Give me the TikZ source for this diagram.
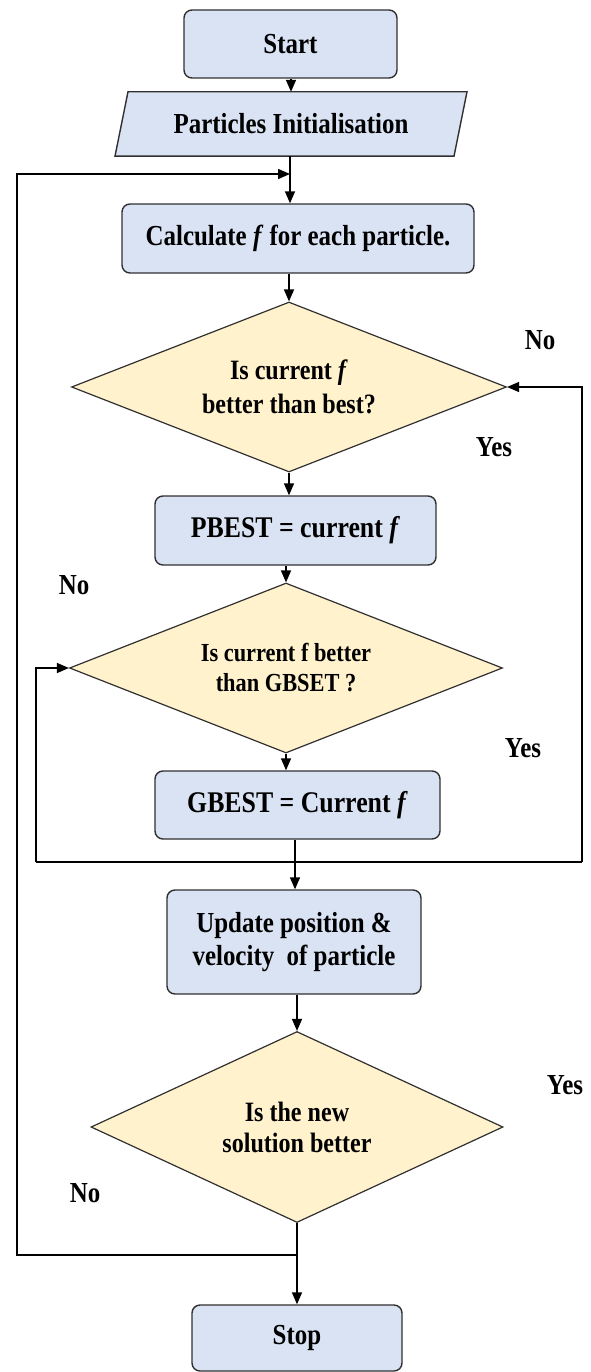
\documentclass[tikz,border=0pt]{standalone}
\usepackage{fontspec}
\setmainfont{Liberation Serif}[FakeStretch=0.86]
\usetikzlibrary{shapes.geometric,arrows.meta,backgrounds}
\definecolor{boxblue}{HTML}{DAE3F3}
\definecolor{decyel}{HTML}{FFF2CC}
\definecolor{edgegray}{HTML}{303030}
\tikzset{
  procbox/.style={rectangle, rounded corners=8pt, draw=edgegray, line width=1.4pt, fill=boxblue,
    inner sep=0pt, align=center, font=\bfseries\fontsize{29}{33}\selectfont},
  decbox/.style={diamond, draw=edgegray, line width=1.2pt, fill=decyel, inner sep=0pt,
    align=center, font=\bfseries\fontsize{28}{34}\selectfont},
  lbl/.style={font=\bfseries\fontsize{29}{33}\selectfont, inner sep=0pt},
  conn/.style={draw=black, line width=1.5pt},
  arr/.style={conn, -{Triangle[length=12pt,width=10pt]}}
}
\begin{document}
\begin{tikzpicture}[x=1pt,y=-1pt]
\useasboundingbox (0,0) rectangle (590,1372);
% nodes
\node[procbox, minimum width=213pt, minimum height=68pt] (start) at (290.5,44) {Start};
\node[rectangle, inner sep=0pt, minimum width=339pt, minimum height=64pt,
      font=\bfseries\fontsize{29}{32}\selectfont] (para) at (291,124) {Particles Initialisation};
\begin{scope}[on background layer]
\draw[draw=edgegray, line width=1.4pt, fill=boxblue]
  ([xshift=-176pt]para.south) -- ([xshift=163pt]para.south)
  -- ([xshift=176pt]para.north) -- ([xshift=-163pt]para.north) -- cycle;
\end{scope}
\node[procbox, minimum width=352pt, minimum height=69pt] (calc) at (298,238.5) {Calculate \textit{f} for each particle.};
\node[decbox, aspect=2.56, minimum width=435pt, minimum height=170pt] (d1) at (289,387) {Is current \textit{f}\\better than best?};
\node[procbox, minimum width=281pt, minimum height=69pt, font=\bfseries\fontsize{30}{34}\selectfont] (pbest) at (295.5,530.5) {PBEST = current \textit{f}};
\node[decbox, aspect=2.55, minimum width=433pt, minimum height=170pt, font=\bfseries\fontsize{26}{30}\selectfont] (d2) at (286,668) {Is current f better\\than GBSET ?};
\node[procbox, minimum width=285pt, minimum height=68pt, font=\bfseries\fontsize{30}{34}\selectfont] (gbest) at (297.5,805) {GBEST = Current \textit{f}};
\node[procbox, minimum width=254pt, minimum height=104pt] (update) at (294,942) {Update position \&\\velocity\ \ of particle};
\node[decbox, aspect=2.16, minimum width=412pt, minimum height=191pt, font=\bfseries\fontsize{28}{31}\selectfont] (d3) at (297,1127) {Is the new\\solution better};
\node[procbox, minimum width=210pt, minimum height=66pt] (stop) at (297,1338) {Stop};
% labels
\node[lbl] (no1) at (540,340) {No};
\node[lbl] (yes1) at (494,447) {Yes};
\node[lbl] (no2) at (74,585) {No};
\node[lbl] (yes2) at (523,748) {Yes};
\node[lbl] (yes3) at (565,1085) {Yes};
\node[lbl] (no3) at (85,1193) {No};
% coordinates
\coordinate (j1) at (290,174);
\coordinate (m) at (295,862);
\coordinate (ll) at (36,862);
\coordinate (rr) at (582,862);
\coordinate (bj) at (297,1255);
\coordinate (ol) at (17,1255);
% connectors
\draw[arr] (start.south -| para.north) -- (para.north);
\draw[arr] (para.south -| j1) -- (j1 |- calc.north);
\draw[arr] (calc.south -| d1.north) -- (d1.north);
\draw[arr] (d1.south) -- (d1.south |- pbest.north);
\draw[arr] (pbest.south -| d2.north) -- (d2.north);
\draw[arr] (d2.south) -- (d2.south |- gbest.north);
\draw[conn] (gbest.south -| m) -- (m);
\draw[arr] (m) -- (m |- update.north);
\draw[conn] (ll) -- (rr);
\draw[arr] (ll) |- (d2.west);
\draw[arr] (rr) |- (d1.east);
\draw[arr] (update.south -| d3.north) -- (d3.north);
\draw[arr] (d3.south) -- (d3.south |- stop.north);
\draw[arr] (bj) -- (ol) |- (j1);
\end{tikzpicture}
\end{document}
